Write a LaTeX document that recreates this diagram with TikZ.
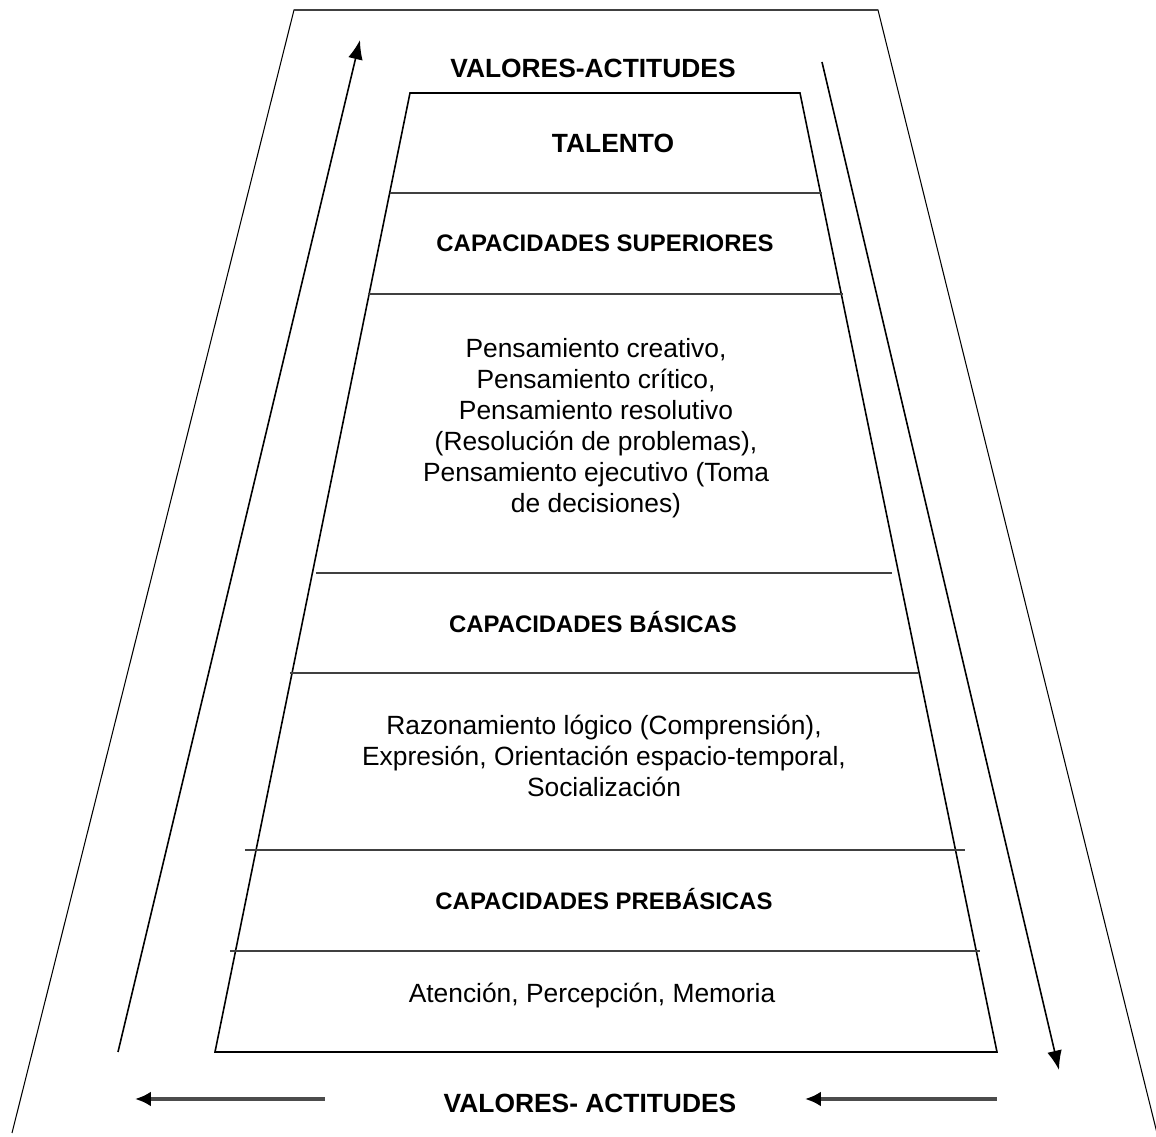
\documentclass[tikz,border=0pt]{standalone}
\usepackage{fontspec}
\setmainfont{Liberation Sans}
\usetikzlibrary{arrows.meta}

\tikzset{
  texto/.style={align=center,font=\fontsize{7.5}{8.8}\selectfont},
  titulo/.style={font=\fontsize{7.5}{9}\selectfont\bfseries},
  capacidad/.style={font=\fontsize{6.8}{8}\selectfont\bfseries},
  borde/.style={line width=0.45pt},
  divisor/.style={line width=0.6pt,black!75},
  flecha/.style={-{Latex[length=5.5pt,width=4.2pt]},line width=0.45pt},
  flechaabajo/.style={-{Latex[length=4.5pt,width=4.2pt,color=black]},line width=0.9pt,black!70}
}

\begin{document}
\begin{tikzpicture}[x=0.01cm,y=-0.01cm]
\useasboundingbox (0,0) rectangle (1156,1137);

\draw[line width=0.3pt] (12,1133) -- (294,10) -- (878,10) -- (1158,1137);
\draw[line width=0.7pt, black!75] (294,10) -- (878,10);

\coordinate (iz1) at (118,1052);
\coordinate (iz2) at (360,40);
\coordinate (de1) at (822,62);
\coordinate (de2) at (1059,1070);
\draw[flecha] (iz1) -- (iz2);
\draw[flecha] (de1) -- (de2);

\draw[borde] (410,93) -- (800,93) -- (997,1052) -- (215,1052) -- cycle;
\draw[divisor] (390,193) -- (822,193);
\draw[divisor] (368,294) -- (843,294);
\draw[divisor] (316,573) -- (892,573);
\draw[divisor] (290,673) -- (918,673);
\draw[divisor] (245,850) -- (965,850);
\draw[divisor] (230,951) -- (980,951);

\node[titulo] (va1) at (593,68) {VALORES-ACTITUDES};
\node[titulo] (tal) at (613,143) {TALENTO};
\node[capacidad] (sup) at (605,243) {CAPACIDADES SUPERIORES};
\node[texto] (pen) at (596,428) {Pensamiento creativo,\\Pensamiento crítico,\\Pensamiento resolutivo\\(Resolución de problemas),\\Pensamiento ejecutivo (Toma\\de decisiones)};
\node[capacidad] (bas) at (593,622) {CAPACIDADES BÁSICAS};
\node[texto] (raz) at (604,756) {Razonamiento lógico (Comprensión),\\Expresión, Orientación espacio-temporal,\\Socialización};
\node[capacidad] (pre) at (604,899) {CAPACIDADES PREBÁSICAS};
\node[texto] (ate) at (592,996) {Atención, Percepción, Memoria};
\node[titulo] (va2) at (590,1103) {VALORES- ACTITUDES};

\coordinate (ab1) at (325,1099);
\coordinate (ab2) at (135,1099);
\coordinate (ab3) at (997,1099);
\coordinate (ab4) at (805,1099);
\draw[flechaabajo] (ab1) -- (ab2);
\draw[flechaabajo] (ab3) -- (ab4);
\end{tikzpicture}
\end{document}
